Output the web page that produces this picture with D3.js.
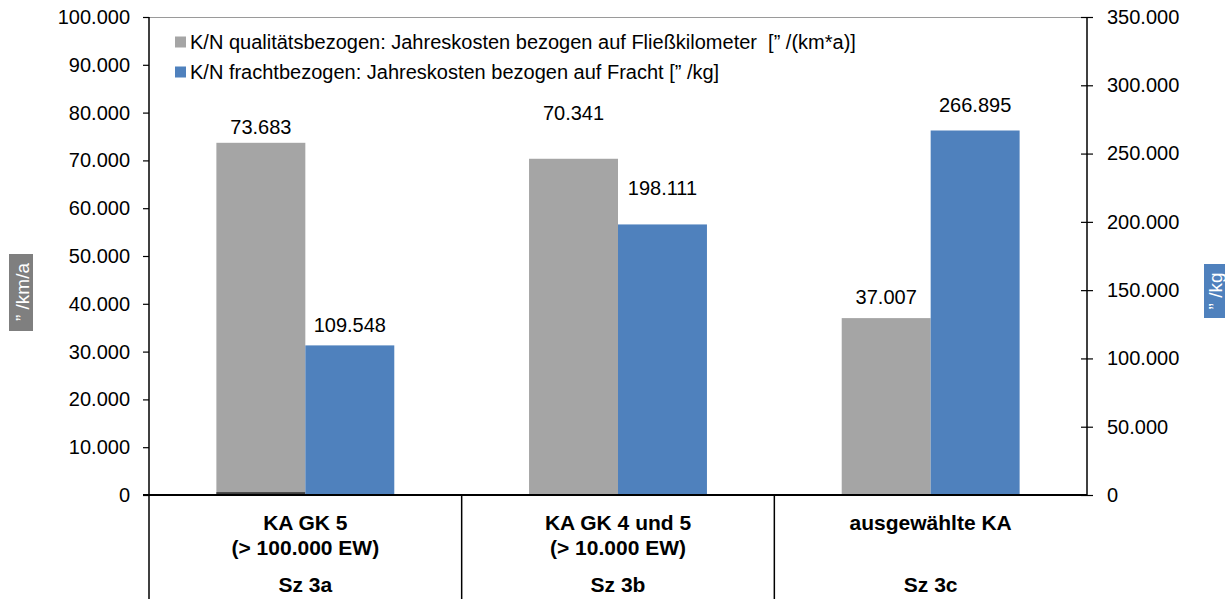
<!DOCTYPE html>
<html>
<head>
<meta charset="utf-8">
<script src="https://cdn.jsdelivr.net/npm/d3@7"></script>
<style>
  html, body { margin: 0; padding: 0; background: #fff; }
  svg { display: block; font-family: "Liberation Sans", Arial, sans-serif; }
</style>
</head>
<body>
<svg id="chart" width="1230" height="599"></svg>
<script>
// ---- data ----
const categories = ["Sz 3a", "Sz 3b", "Sz 3c"];
const categoryLines = [
  ["KA GK 5", "(> 100.000 EW)"],
  ["KA GK 4 und 5", "(> 10.000 EW)"],
  ["ausgewählte KA", ""]
];
const qualityCosts = [73683, 70341, 37007];      // €/(km*a), left axis
const freightCosts = [109548, 198111, 266895];   // €/kg, right axis
const baseCosts = [600, 0, 0];                   // small dark base segment, left axis
const leftTicks = [0, 10000, 20000, 30000, 40000, 50000, 60000, 70000, 80000, 90000, 100000];
const rightTicks = [0, 50000, 100000, 150000, 200000, 250000, 300000, 350000];
const seriesNames = [
  "K/N qualitätsbezogen: Jahreskosten bezogen auf Fließkilometer  [\u201D /(km*a)]",
  "K/N frachtbezogen: Jahreskosten bezogen auf Fracht [\u201D /kg]"
];

// ---- layout ----
const colors = { quality: "#A5A5A5", freight: "#4F81BD", base: "#404040" };
const plot = { left: 149, right: 1087, top: 17, bottom: 495 };
// vertical lift of each value label above its bar top (quality, freight)
const labelLift = { quality: [16, 46, 21], freight: [20, 36, 25] };
const FONT = "Liberation Sans, Arial, sans-serif";

const fmt = v => d3.format(",")(v).replace(/,/g, ".");
const svg = d3.select("#chart");

const x0 = d3.scaleBand().domain(categories).range([plot.left, plot.right]).padding(0);
const x1 = d3.scaleBand().domain(["quality", "freight"])
  .range([x0.bandwidth() * 0.2155, x0.bandwidth() * 0.7845]).padding(0);
const yL = d3.scaleLinear().domain([0, 100000]).range([plot.bottom, plot.top]);
const yR = d3.scaleLinear().domain([0, 350000]).range([plot.bottom, plot.top]);

// top border of plot area
svg.append("line")
  .attr("x1", plot.left).attr("x2", plot.right)
  .attr("y1", plot.top + 0.5).attr("y2", plot.top + 0.5)
  .attr("stroke", "#9a9a9a").attr("stroke-width", 1);

// bars
const groups = svg.append("g").selectAll("g").data(categories).join("g")
  .attr("transform", d => `translate(${x0(d)},0)`);

groups.append("rect")
  .attr("x", x1("quality")).attr("width", x1.bandwidth())
  .attr("y", (d, i) => yL(qualityCosts[i]))
  .attr("height", (d, i) => yL(0) - yL(qualityCosts[i]))
  .attr("fill", colors.quality);

groups.append("rect")
  .attr("x", x1("quality")).attr("width", x1.bandwidth())
  .attr("y", (d, i) => yL(baseCosts[i]))
  .attr("height", (d, i) => yL(0) - yL(baseCosts[i]))
  .attr("fill", colors.base);

groups.append("rect")
  .attr("x", x1("freight")).attr("width", x1.bandwidth())
  .attr("y", (d, i) => yR(freightCosts[i]))
  .attr("height", (d, i) => yR(0) - yR(freightCosts[i]))
  .attr("fill", colors.freight);

// value labels
groups.append("text")
  .attr("x", x1("quality") + x1.bandwidth() / 2)
  .attr("y", (d, i) => yL(qualityCosts[i]) - labelLift.quality[i])
  .attr("text-anchor", "middle").attr("dominant-baseline", "central")
  .attr("font-size", 20).attr("fill", "#000")
  .text((d, i) => fmt(qualityCosts[i]));

groups.append("text")
  .attr("x", x1("freight") + x1.bandwidth() / 2)
  .attr("y", (d, i) => yR(freightCosts[i]) - labelLift.freight[i])
  .attr("text-anchor", "middle").attr("dominant-baseline", "central")
  .attr("font-size", 20).attr("fill", "#000")
  .text((d, i) => fmt(freightCosts[i]));

// left axis
const axL = svg.append("g").attr("transform", `translate(${plot.left},0)`)
  .call(d3.axisLeft(yL).tickValues(leftTicks).tickFormat(fmt).tickSize(6).tickPadding(13));
axL.select(".domain").attr("stroke", "#000").attr("stroke-width", 1.5).attr("d", `M0,${plot.top}V${plot.bottom}`);
axL.selectAll(".tick line").attr("stroke", "#000").attr("stroke-width", 1.2);
axL.selectAll(".tick text").attr("font-size", 20).attr("fill", "#000").attr("font-family", FONT);

// right axis
const axR = svg.append("g").attr("transform", `translate(${plot.right},0)`)
  .call(d3.axisRight(yR).tickValues(rightTicks).tickFormat(fmt).tickSize(6).tickPadding(14));
axR.select(".domain").attr("stroke", "#000").attr("stroke-width", 1.5).attr("d", `M0,${plot.top}V${plot.bottom}`);
axR.selectAll(".tick line").attr("stroke", "#000").attr("stroke-width", 1.2).attr("x1", -6);
axR.selectAll(".tick text").attr("font-size", 20).attr("fill", "#000").attr("font-family", FONT);

// category axis: baseline and dividers
svg.append("line")
  .attr("x1", plot.left - 6).attr("x2", plot.right)
  .attr("y1", plot.bottom).attr("y2", plot.bottom)
  .attr("stroke", "#000").attr("stroke-width", 2);

const dividers = [x0(categories[0]), x0(categories[1]), x0(categories[2])];
svg.append("g").selectAll("line").data(dividers).join("line")
  .attr("x1", d => d).attr("x2", d => d)
  .attr("y1", plot.bottom).attr("y2", 599)
  .attr("stroke", "#000").attr("stroke-width", 1.5);

// category labels
const catG = svg.append("g").selectAll("g").data(categories).join("g")
  .attr("transform", d => `translate(${x0(d) + x0.bandwidth() / 2},0)`)
  .attr("font-size", 21).attr("font-weight", "bold").attr("text-anchor", "middle");
catG.append("text").attr("y", 522).attr("dominant-baseline", "central").text((d, i) => categoryLines[i][0]);
catG.append("text").attr("y", 547).attr("dominant-baseline", "central").text((d, i) => categoryLines[i][1]);
catG.append("text").attr("y", 584).attr("dominant-baseline", "central").text(d => d);

// legend
const legend = svg.append("g").attr("font-size", 20);
[[colors.quality, seriesNames[0], 42], [colors.freight, seriesNames[1], 72]].forEach(([c, t, y]) => {
  legend.append("rect").attr("x", 175).attr("y", y - 5.5).attr("width", 11).attr("height", 11).attr("fill", c);
  legend.append("text").attr("x", 190).attr("y", y).attr("dominant-baseline", "central")
    .style("white-space", "pre").text(t);
});

// axis titles in coloured boxes
svg.append("rect").attr("x", 9).attr("y", 254).attr("width", 24).attr("height", 77).attr("fill", "#7F7F7F");
svg.append("text").attr("transform", "translate(22,292) rotate(-90)")
  .attr("text-anchor", "middle").attr("dominant-baseline", "central")
  .attr("font-size", 19).attr("fill", "#fff").style("white-space", "pre").text("\u201D /km/a");

svg.append("rect").attr("x", 1204).attr("y", 264).attr("width", 21).attr("height", 54).attr("fill", "#4F81BD");
svg.append("text").attr("transform", "translate(1215,291) rotate(-90)")
  .attr("text-anchor", "middle").attr("dominant-baseline", "central")
  .attr("font-size", 19).attr("fill", "#fff").style("white-space", "pre").text("\u201D /kg");
</script>
</body>
</html>
